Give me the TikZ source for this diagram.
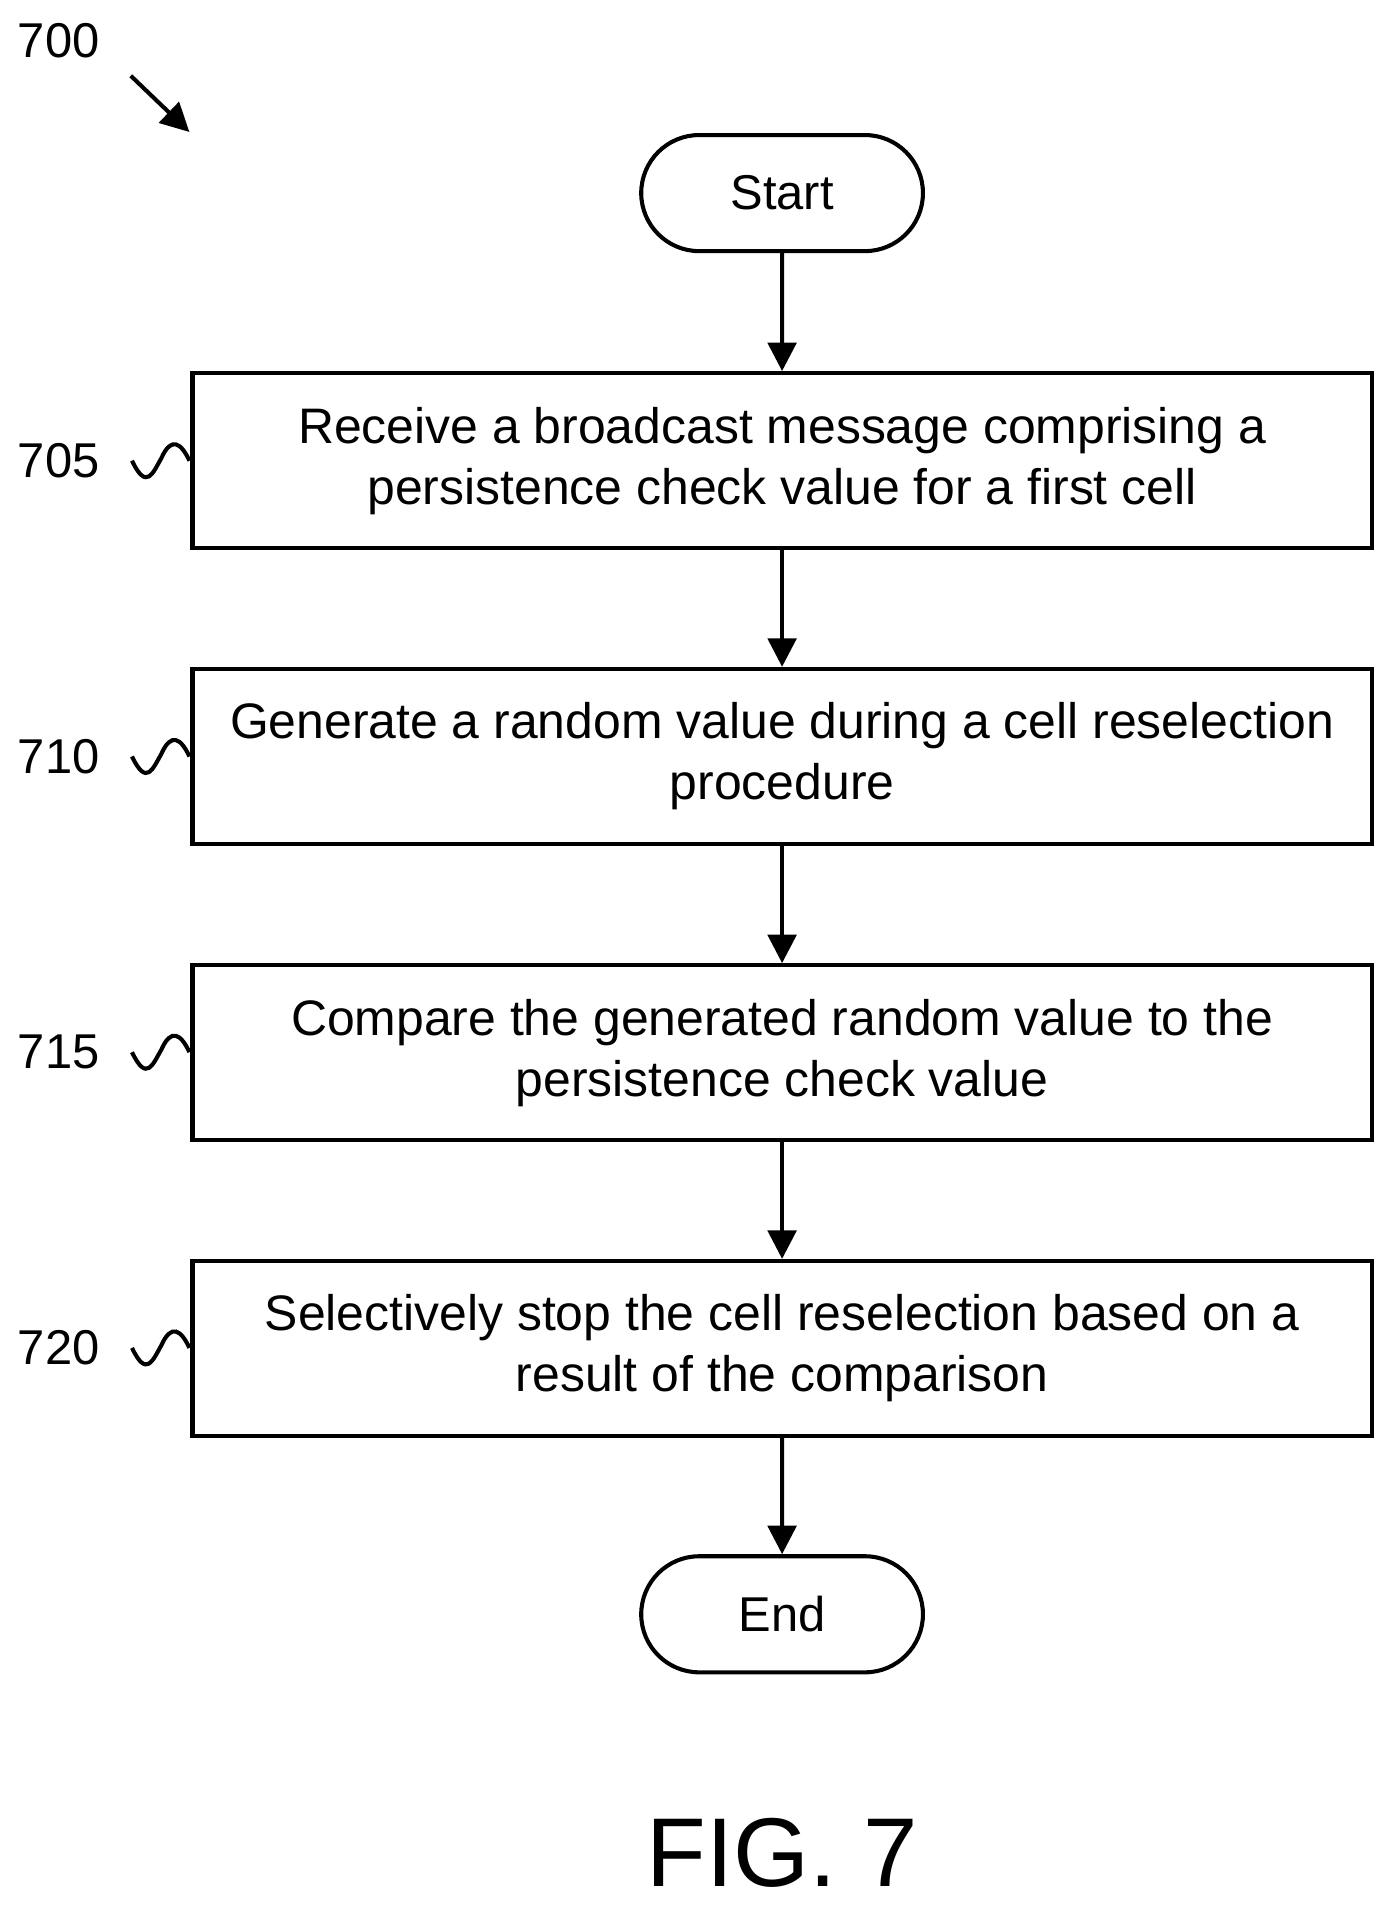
\documentclass[tikz,border=0pt]{standalone}
\usepackage{fontspec}
\setmainfont{Liberation Sans}
\usetikzlibrary{arrows.meta,shapes.misc}
\begin{document}
\begin{tikzpicture}[x=0.6pt,y=-0.6pt,
  line width=2pt,
  box/.style={draw,rectangle,minimum width=579pt,minimum height=86pt,align=center,font=\fontsize{24.5}{30}\selectfont,inner sep=0pt},
  term/.style={draw,rounded rectangle,minimum width=145pt,minimum height=57pt,font=\fontsize{24}{28}\selectfont},
  lab/.style={font=\fontsize{24}{28}\selectfont},
  arr/.style={-{Triangle[length=14pt,width=14pt]}}]
\useasboundingbox (0,0) rectangle (1140,1563);
\node[term] (s) at (640,158) {Start};
\node[box] (b1) at (640,377) {Receive a broadcast message comprising a\\persistence check value for a first cell};
\node[box] (b2) at (640,619) {Generate a random value during a cell reselection\\procedure};
\node[box] (b3) at (640,861.5) {Compare the generated random value to the\\persistence check value};
\node[box] (b4) at (640,1103.5) {Selectively stop the cell reselection based on a\\result of the comparison};
\node[term] (e) at (640,1321) {End};
\draw[arr] (s) -- (b1);
\draw[arr] (b1) -- (b2);
\draw[arr] (b2) -- (b3);
\draw[arr] (b3) -- (b4);
\draw[arr] (b4) -- (e);
\node[lab] (l700) at (48,33) {700};
\coordinate (a1) at (107,62);
\coordinate (a2) at (155,108);
\draw[arr] (a1) -- (a2);
\foreach \n/\y in {705/377,710/619,715/861,720/1103}{
  \node[lab] (l\n) at (48,\y) {\n};
  \draw (108,\y) .. controls (120,\y+25) and (125,\y+10) .. (132,\y-2)
        .. controls (140,\y-20) and (148,\y-15) .. (155,\y);
}
\node[font=\fontsize{48}{54}\selectfont] (fig) at (640,1516) {FIG. 7};
\end{tikzpicture}
\end{document}
